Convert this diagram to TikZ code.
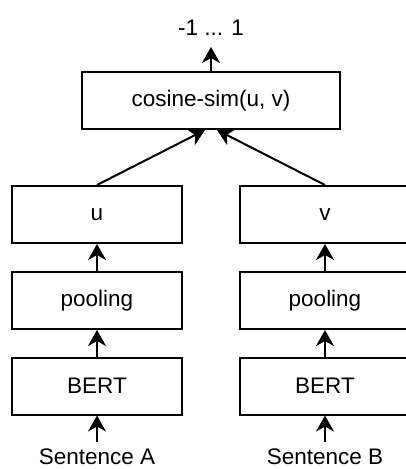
\documentclass[tikz,border=0pt]{standalone}
\usepackage{fontspec}
\setmainfont{Liberation Sans}
\usetikzlibrary{arrows.meta}

\begin{document}
\begin{tikzpicture}[x=1pt,y=-1pt,
        line width=2pt,
        font=\fontsize{22.5pt}{27pt}\selectfont,
        block/.style = {draw,
            minimum width = 170pt,
            minimum height = 57pt,
            inner sep = 0pt,
            },
        word/.style = {anchor=base,
            inner sep = 0pt,
            },
        arr/.style = {-{Stealth[length=16pt,width=18pt,inset=5pt]}}]

    \useasboundingbox (0,0) rectangle (406,469);

    % Similarity
    \node[block,minimum width=258pt] (cos) at (211,100.5) {cosine-sim(u, v)};
    \node[word] (out) at (211,35) {-1 ... 1};

    % Sentence A
    \node[block] (u) at (97,214.5) {u};
    \node[block] (poolA) at (97,300.5) {pooling};
    \node[block] (bertA) at (97,386) {BERT};
    \node[word] (sentA) at (97,464.5) {Sentence A};

    % Sentence B
    \node[block] (v) at (325,214.5) {v};
    \node[block] (poolB) at (325,300.5) {pooling};
    \node[block] (bertB) at (325,386) {BERT};
    \node[word] (sentB) at (325,464.5) {Sentence B};

    % Arrows
    \draw[arr] (cos) -- ([yshift=-11pt]out.south);
    \draw[arr] (u.north) -- ([xshift=-6pt]cos.south);
    \draw[arr] (v.north) -- ([xshift=6pt]cos.south);
    \draw[arr] (poolA) -- (u);
    \draw[arr] (bertA) -- (poolA);
    \draw[arr] ([yshift=6pt]sentA.north) -- (bertA);
    \draw[arr] (poolB) -- (v);
    \draw[arr] (bertB) -- (poolB);
    \draw[arr] ([yshift=6pt]sentB.north) -- (bertB);

\end{tikzpicture}
\end{document}
